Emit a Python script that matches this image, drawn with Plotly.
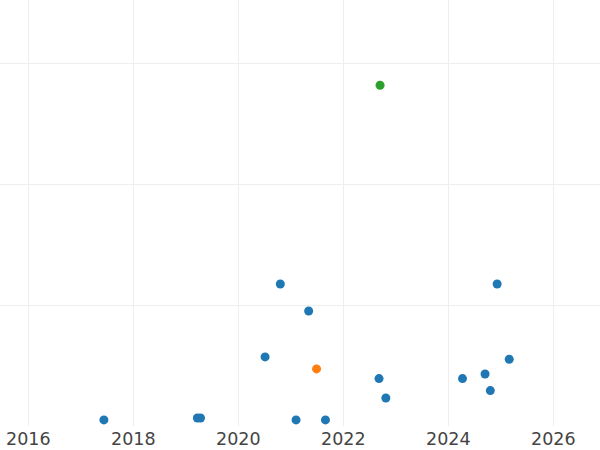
import plotly.graph_objects as go

blue_x = [2017.44, 2019.22, 2019.28, 2020.51, 2020.80, 2021.10, 2021.34, 2021.66,
          2022.68, 2022.81, 2024.27, 2024.70, 2024.80, 2024.93, 2025.16]
blue_y = [0.58, 0.74, 0.74, 5.78, 11.80, 0.58, 9.57, 0.58,
          3.99, 2.39, 3.99, 4.37, 3.00, 11.80, 5.59]
orange_x = [2021.49]
orange_y = [4.79]
green_x = [2022.70]
green_y = [28.2]

x_ticks = [2016, 2018, 2020, 2022, 2024, 2026]
y_ticks = [0, 10, 20, 30]

fig = go.Figure()
for xs, ys, col in [(blue_x, blue_y, "#1f77b4"), (orange_x, orange_y, "#ff7f0e"), (green_x, green_y, "#2ca02c")]:
    fig.add_trace(go.Scatter(x=xs, y=ys, mode="markers",
                             marker=dict(size=9, color=col, line=dict(width=0)),
                             showlegend=False))

fig.update_layout(
    template="none",
    width=600, height=450,
    margin=dict(l=0, r=0, t=0, b=24),
    paper_bgcolor="white", plot_bgcolor="white",
    font=dict(family="DejaVu Sans", size=17.5, color="#444"),
    xaxis=dict(range=[2015.461, 2026.889], tickvals=x_ticks, ticktext=[str(t) for t in x_ticks],
               showgrid=True, gridcolor="#eee", zeroline=False, showline=False, ticks=""),
    yaxis=dict(range=[0.08, 35.23], tickvals=y_ticks, showticklabels=False,
               showgrid=True, gridcolor="#eee", zeroline=False, showline=False, ticks=""),
)
fig.write_html("out.html", config={"displayModeBar": False},
               post_script="document.body.style.margin='0';document.body.style.padding='0';")
